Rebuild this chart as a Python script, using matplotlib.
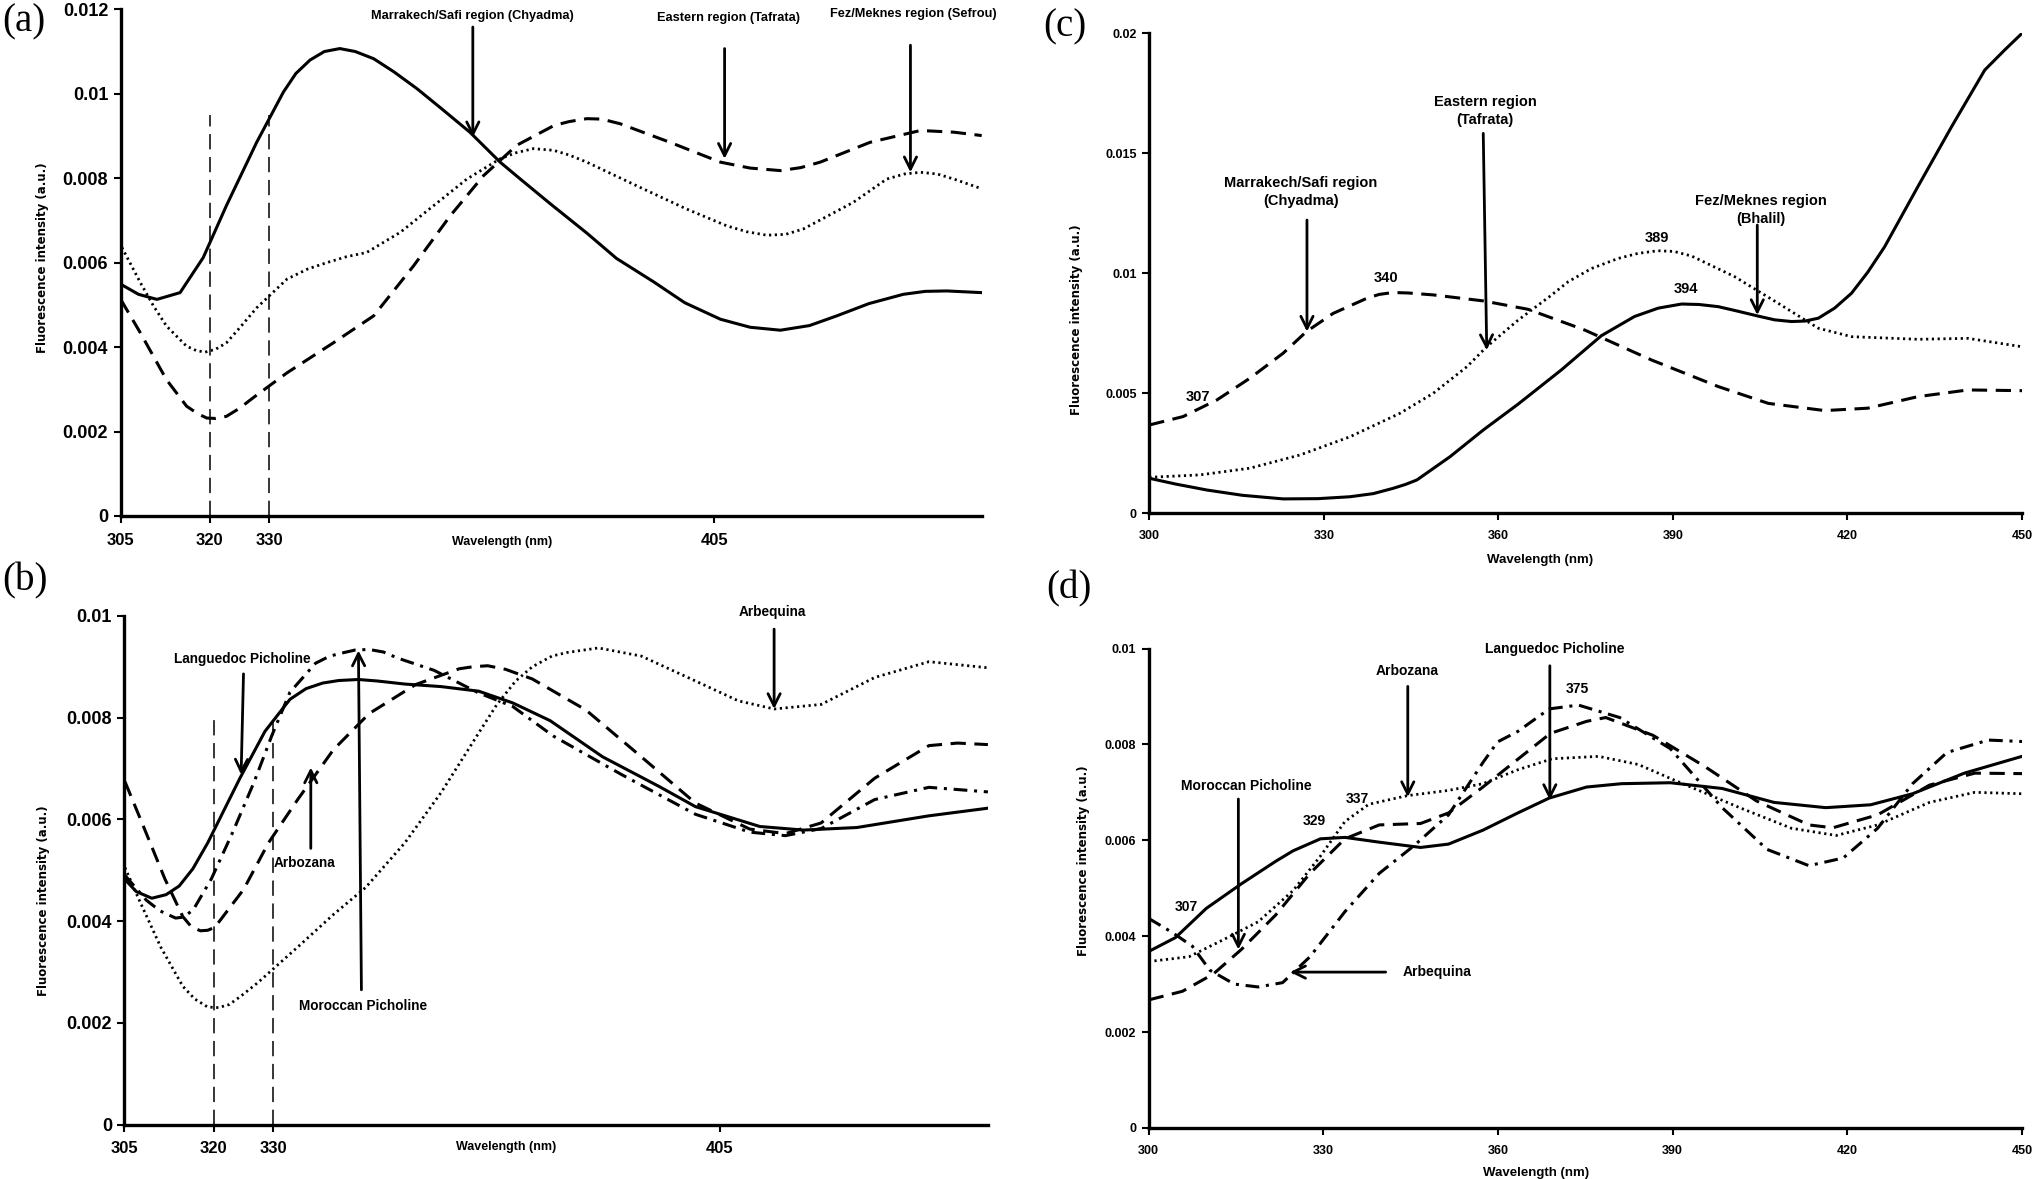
"""
Fluorescence spectra of olive oils: (a)/(c) by region, (b)/(d) by cultivar.
"""

import matplotlib
matplotlib.use("Agg")
import matplotlib.pyplot as plt

plt.rcParams['font.family'] = ['Liberation Sans', 'DejaVu Sans']
plt.rcParams['font.weight'] = 'bold'

# ============================================================
# Data
# ============================================================

# --- panel (a) ---
A_SOLID_X = [305, 308, 311.1, 315, 318.9, 322.8, 327.9, 332.4, 334.5, 336.9, 339.3, 341.9, 344.5,
             347.6, 351, 354.9, 359, 363.8, 368.9, 372.3, 377.3, 383.5, 388.5, 394.7, 400, 406.0,
             411, 416.1, 421, 425.6, 431, 436.8, 440.5, 444.1, 450]
A_SOLID_Y = [0.00549, 0.00525, 0.00513, 0.00529, 0.00612, 0.00735, 0.00885, 0.01004, 0.01048,
             0.0108, 0.011, 0.01107, 0.011, 0.01083, 0.01052, 0.01012, 0.00965, 0.00909, 0.00838,
             0.00798, 0.0074, 0.0067, 0.0061, 0.00555, 0.00505, 0.00466, 0.00447, 0.0044,
             0.00451, 0.00474, 0.00503, 0.00525, 0.00532, 0.00533, 0.00529]
A_DOT_X = [305.2, 308.3, 310.5, 312.7, 316.1, 317.7, 319.2, 321, 322.8, 325, 327.9, 333.0, 336.5,
           339.7, 343, 346.4, 352.1, 357.7, 363.3, 368.9, 371.5, 374.5, 377.9, 380.5, 383.5,
           391.9, 400.3, 407.1, 410.5, 413.8, 417, 420.0, 428.4, 434.0, 437, 439.7, 442.5, 445.3,
           450]
A_DOT_Y = [0.00636, 0.00553, 0.00498, 0.0045, 0.00402, 0.00392, 0.00388, 0.00395, 0.0041,
           0.00445, 0.00493, 0.00561, 0.00585, 0.006, 0.00614, 0.00624, 0.00672, 0.00735, 0.00798,
           0.00846, 0.0086, 0.0087, 0.00866, 0.00855, 0.00838, 0.00782, 0.00727, 0.00687,
           0.00673, 0.00665, 0.00667, 0.0068, 0.00743, 0.00798, 0.0081, 0.00814, 0.0081, 0.00798,
           0.00775]
A_DASH_X = [305, 308.3, 312.7, 316.1, 318, 319.5, 321, 322.8, 325, 327.3, 333.0, 340.8, 347.6,
            354.3, 360.5, 366.1, 371.7, 378.0, 380.5, 383.5, 386, 389.1, 397.5, 406.0, 411,
            416.1, 419.5, 422.8, 431.2, 439.7, 445.3, 450]
A_DASH_Y = [0.00513, 0.00434, 0.00323, 0.0026, 0.00242, 0.00232, 0.00231, 0.00236, 0.00255,
            0.0028, 0.00339, 0.0041, 0.00474, 0.00592, 0.00711, 0.00806, 0.00878, 0.00925,
            0.00934, 0.00941, 0.0094, 0.00929, 0.00885, 0.00838, 0.00824, 0.00818, 0.00825,
            0.00838, 0.00885, 0.00913, 0.00909, 0.00901]

# --- panel (b) ---
B_SOLID_X = [305, 307, 309.6, 312, 314.2, 316.5, 319.0, 324.4, 328.6, 332.8, 335.5, 338.3, 341,
             344.3, 347.5, 352.1, 358.2, 364.5, 370.2, 376.5, 385.3, 394.9, 400.9, 411.7, 419.0,
             428.0, 440.1, 450]
B_SOLID_Y = [0.00483, 0.00458, 0.00445, 0.00452, 0.00469, 0.00503, 0.00554, 0.00681, 0.00773,
             0.00836, 0.00857, 0.00868, 0.00873, 0.00875, 0.00872, 0.00866, 0.00861, 0.00852,
             0.00829, 0.00794, 0.00723, 0.00664, 0.00625, 0.00586, 0.00579, 0.00584, 0.00607,
             0.00622]
B_DASH_X = [305.1, 308.1, 311.8, 314.8, 316.3, 317.8, 319, 320.2, 325.0, 329.2, 334.1, 340.1,
            346.1, 353.9, 361.2, 363.5, 366.0, 369, 373.5, 382.5, 391.8, 400.9, 410.0, 416.0,
            422.0, 431.0, 440.1, 444.9, 450]
B_DASH_Y = [0.00674, 0.00589, 0.00483, 0.00409, 0.00388, 0.00381, 0.00382, 0.00388, 0.00462,
            0.00554, 0.00639, 0.00737, 0.00808, 0.00865, 0.00896, 0.009, 0.00902, 0.00895,
            0.00876, 0.00815, 0.00723, 0.00632, 0.00581, 0.00572, 0.00593, 0.00681, 0.00745,
            0.0075, 0.00747]
B_DASHDOT_X = [305.1, 308.7, 311, 313.6, 315, 316.6, 319.6, 323.2, 326.8, 329.8, 332.8, 337.1,
               339.5, 341.9, 343.8, 346.1, 348.5, 350.9, 357.0, 364.4, 370.2, 377.0, 388.5,
               400.9, 410.0, 416.0, 422.0, 431.0, 440.1, 450]
B_DASHDOT_Y = [0.0049, 0.00441, 0.0042, 0.00406, 0.00408, 0.00423, 0.00483, 0.00575, 0.00674,
               0.00766, 0.0085, 0.00907, 0.00921, 0.00928, 0.00933, 0.00934, 0.00929, 0.00917,
               0.00893, 0.00849, 0.00822, 0.00764, 0.00688, 0.0061, 0.00575, 0.00568, 0.00582,
               0.00639, 0.00663, 0.00654]
B_DOT_X = [305.1, 307.5, 311.1, 314.8, 316.8, 319.0, 320.8, 322.6, 324.5, 327.4, 334.1, 340.1,
           345.5, 352.1, 358.2, 364.5, 367.5, 370.7, 373.5, 376.8, 379.3, 384.6, 391.8, 400.9,
           408.1, 414.1, 422.0, 431.0, 440.1, 450]
B_DOT_Y = [0.00505, 0.00441, 0.00349, 0.00272, 0.00247, 0.00231, 0.0023, 0.00236, 0.00252,
           0.00279, 0.00349, 0.00413, 0.00466, 0.00554, 0.00653, 0.0077, 0.00825, 0.00872,
           0.009, 0.00921, 0.00928, 0.00937, 0.00921, 0.00872, 0.00833, 0.00817, 0.00826,
           0.00879, 0.0091, 0.00898]

# --- panel (c) ---
C_SOLID_X = [300, 304.5, 309.9, 316, 323, 329, 334.5, 338.5, 341.9, 344, 346, 351.7, 357.4, 363.4,
             370.8, 377.7, 383.4, 387.5, 391.5, 394.5, 397.8, 401, 404.6, 407.5, 410.4, 412.7,
             415.0, 417.8, 420.7, 423.5, 426.4, 432.1, 437.9, 443.6, 447, 450]
C_SOLID_Y = [0.00146, 0.00122, 0.00097, 0.00075, 0.0006, 0.00061, 0.00069, 0.00082, 0.00104,
             0.0012, 0.00139, 0.00236, 0.00347, 0.00455, 0.00597, 0.0074, 0.0082, 0.00855,
             0.00872, 0.0087, 0.00861, 0.00843, 0.00822, 0.00806, 0.00799, 0.00801, 0.00813,
             0.00855, 0.00917, 0.01005, 0.01111, 0.01361, 0.01611, 0.01847, 0.0193, 0.0200]
C_DASH_X = [300, 305.8, 311.6, 317.3, 323, 327, 331.6, 337.4, 339.5, 341.9, 344.5, 348.8, 357.4,
            365.1, 374.8, 386.3, 397.8, 406.4, 416.1, 423.5, 432.1, 440.7, 450]
C_DASH_Y = [0.00368, 0.00403, 0.00472, 0.00563, 0.00667, 0.00757, 0.00833, 0.00896, 0.00912,
            0.0092, 0.00918, 0.0091, 0.00885, 0.0085, 0.00764, 0.00639, 0.00528, 0.00458,
            0.00428, 0.00438, 0.00486, 0.00514, 0.00511]
C_DOT_X = [300, 308.7, 317.3, 325.9, 334.5, 343.1, 348.8, 354.6, 358, 363.3, 368.9, 372, 376,
           380.6, 384, 387.4, 390.2, 393.2, 400.6, 408.1, 415, 420.7, 432.1, 440.7, 450]
C_DOT_Y = [0.0015, 0.0016, 0.00188, 0.00243, 0.00319, 0.00417, 0.005, 0.00611, 0.00694, 0.00803,
           0.00905, 0.00965, 0.0102, 0.01062, 0.01083, 0.01094, 0.01091, 0.01072, 0.00986,
           0.00875, 0.00771, 0.00736, 0.00725, 0.00729, 0.00694]

# --- panel (d) ---
D_SOLID_X = [300, 304.6, 309.9, 315.9, 321.8, 324.8, 329.5, 333.7, 339.6, 346.7, 351.5, 357.4,
             363.4, 368.8, 375.2, 381.2, 389.6, 398.5, 407.4, 416.3, 424.0, 431.2, 440.1, 450]
D_SOLID_Y = [0.00368, 0.00397, 0.00458, 0.00509, 0.00556, 0.00578, 0.00603, 0.00606, 0.00596,
             0.00585, 0.00592, 0.00621, 0.00657, 0.00688, 0.00711, 0.00718, 0.0072, 0.00708,
             0.00679, 0.00668, 0.00674, 0.00697, 0.0074, 0.00775]
D_DOT_X = [300, 306.9, 312.9, 318.8, 324.8, 329.5, 333.7, 337.8, 344.4, 351.5, 357.4, 363.4,
           369.3, 377.3, 384.1, 389.6, 401.5, 410.4, 418.1, 425.2, 434.1, 441.9, 450]
D_DOT_Y = [0.00347, 0.00357, 0.00393, 0.0043, 0.00495, 0.00567, 0.00639, 0.00675, 0.00693,
           0.00704, 0.00718, 0.00747, 0.0077, 0.00775, 0.00758, 0.00729, 0.00668, 0.00625,
           0.0061, 0.00632, 0.00679, 0.007, 0.00697]
D_DASH_X = [300, 305.8, 311.1, 315.9, 321.8, 327.7, 333.7, 339.6, 346.7, 351.5, 357.4, 363.4,
            369.0, 375.2, 378.5, 386.6, 395.5, 404.4, 413.4, 417.5, 425.2, 434.1, 441.9, 450]
D_DASH_Y = [0.00267, 0.00285, 0.00321, 0.00372, 0.00444, 0.00531, 0.00603, 0.00632, 0.00635,
            0.00657, 0.00711, 0.00769, 0.00823, 0.00848, 0.00856, 0.00819, 0.00754, 0.00682,
            0.00632, 0.00626, 0.00653, 0.00715, 0.0074, 0.00739]
D_DASHDOT_X = [300, 304, 307.5, 310.5, 314.7, 318.8, 323, 327.7, 333.7, 339.6, 345.5, 351.5,
               357.4, 359.9, 363.4, 368.8, 373.8, 380.9, 389.6, 398.5, 406.2, 413.4, 419.3,
               425.2, 431.2, 437.1, 444.2, 450]
D_DASHDOT_Y = [0.00437, 0.00408, 0.00379, 0.00329, 0.003, 0.00294, 0.00303, 0.00357, 0.00451,
               0.00531, 0.00588, 0.00653, 0.00762, 0.00805, 0.00827, 0.00874, 0.00882, 0.00856,
               0.00791, 0.00668, 0.00581, 0.00547, 0.00563, 0.00625, 0.00718, 0.00783, 0.00809,
               0.00806]

# axis ticks
AB_XTICKS = [305, 320, 330, 405]
A_YTICKS = [0, 0.002, 0.004, 0.006, 0.008, 0.01, 0.012]
B_YTICKS = [0, 0.002, 0.004, 0.006, 0.008, 0.01]
C_YTICKS = [0, 0.005, 0.01, 0.015, 0.02]
D_YTICKS = [0, 0.002, 0.004, 0.006, 0.008, 0.01]
CD_XTICKS = [300, 330, 360, 390, 420, 450]

# ============================================================
# Styles
# ============================================================
LW = 2.2
SOLID = dict(color='black', lw=LW, linestyle='-')
DASHED = dict(color='black', lw=LW, linestyle=(0, (5, 2.8)))
DOTTED = dict(color='black', lw=LW * 0.9, linestyle=(0, (0.8, 1.3)))
DASHDOT = dict(color='black', lw=LW, linestyle=(0, (4.5, 2.2, 1, 2.2)))
REFLINE = dict(color='black', lw=1.1, linestyle=(0, (10, 5)))
ARROW = dict(arrowstyle='->', color='black', lw=2.0, mutation_scale=22, shrinkA=0, shrinkB=0)

W, H = 2038, 1179


def px_rect(left, right, top, bottom):
    return [left / W, 1 - bottom / H, (right - left) / W, (bottom - top) / H]


def style_axes(ax, xticks, yticks, xfs, yfs, xlim, ylim):
    for s in ['top', 'right']:
        ax.spines[s].set_visible(False)
    for s in ['left', 'bottom']:
        ax.spines[s].set_linewidth(2.4)
    ax.set_xlim(*xlim)
    ax.set_ylim(*ylim)
    ax.set_xticks(xticks)
    ax.set_xticklabels([str(t) for t in xticks])
    ax.set_yticks(yticks)
    ax.set_yticklabels(['0' if t == 0 else f'{t:g}' for t in yticks])
    ax.tick_params(axis='both', direction='out', length=5, width=1.5)
    ax.tick_params(axis='x', pad=7, labelsize=xfs)
    ax.tick_params(axis='y', pad=4, labelsize=yfs)
    for lab in ax.get_xticklabels() + ax.get_yticklabels():
        lab.set_fontweight('bold')


def labels(ax, xl_pos, yl_pos, xfs):
    ax.set_xlabel('Wavelength (nm)', fontsize=xfs, fontweight='bold')
    ax.xaxis.set_label_coords(*xl_pos)
    ax.xaxis.label.set_va('center')
    ax.set_ylabel('Fluorescence intensity (a.u.)', fontsize=8.5, fontweight='bold',
                  family='DejaVu Sans')
    ax.yaxis.set_label_coords(*yl_pos)
    ax.yaxis.label.set_va('center')


def arrow(ax, tail, head):
    ax.annotate('', xy=head, xytext=tail, arrowprops=ARROW)


fig = plt.figure(figsize=(W / 100, H / 100), dpi=100)
fig.patch.set_facecolor('white')

# ------------------------------------------------------------
# (a)
# ------------------------------------------------------------
FS_A = 9.2
ax_a = fig.add_axes(px_rect(120.7, 981.7, 9.3, 516))
ax_a.plot(A_SOLID_X, A_SOLID_Y, **SOLID)
ax_a.plot(A_DOT_X, A_DOT_Y, **DOTTED)
ax_a.plot(A_DASH_X, A_DASH_Y, **DASHED)
for xv in [320, 330]:
    ax_a.plot([xv, xv], [0, 0.0095], **REFLINE)
style_axes(ax_a, AB_XTICKS, A_YTICKS, 12, 13, (305, 450), (0, 0.012))
labels(ax_a, (0.443, -0.051), (-0.091, 0.51), 9)
ax_a.text(364.3, 0.01185, 'Marrakech/Safi region (Chyadma)', ha='center', va='center', fontsize=FS_A)
arrow(ax_a, (364.3, 0.01158), (364.3, 0.00897))
ax_a.text(407.3, 0.0118, 'Eastern region (Tafrata)', ha='center', va='center', fontsize=FS_A)
arrow(ax_a, (406.7, 0.01107), (406.7, 0.00846))
ax_a.text(438.4, 0.0119, 'Fez/Meknes region (Sefrou)', ha='center', va='center', fontsize=FS_A)
arrow(ax_a, (438.0, 0.01115), (438.0, 0.00814))

# ------------------------------------------------------------
# (b)
# ------------------------------------------------------------
FS_B = 9.8
ax_b = fig.add_axes(px_rect(124.4, 987.9, 615.9, 1124.6))
ax_b.plot(B_SOLID_X, B_SOLID_Y, **SOLID)
ax_b.plot(B_DASH_X, B_DASH_Y, **DASHED)
ax_b.plot(B_DASHDOT_X, B_DASHDOT_Y, **DASHDOT)
ax_b.plot(B_DOT_X, B_DOT_Y, **DOTTED)
for xv in [320, 330]:
    ax_b.plot([xv, xv], [0, 0.0081], **REFLINE)
style_axes(ax_b, AB_XTICKS, B_YTICKS, 12, 13, (305, 450), (0, 0.01))
labels(ax_b, (0.442, -0.044), (-0.094, 0.44), 9)
ax_b.text(324.8, 0.00916, 'Languedoc Picholine', ha='center', va='center', fontsize=FS_B)
arrow(ax_b, (325.0, 0.00886), (324.6, 0.00688))
ax_b.text(335.3, 0.00515, 'Arbozana', ha='center', va='center', fontsize=FS_B)
arrow(ax_b, (336.3, 0.00543), (336.3, 0.00702))
ax_b.text(345.1, 0.00233, 'Moroccan Picholine', ha='center', va='center', fontsize=FS_B)
arrow(ax_b, (344.8, 0.00265), (344.3, 0.00932))
ax_b.text(413.8, 0.01007, 'Arbequina', ha='center', va='center', fontsize=FS_B)
arrow(ax_b, (414.1, 0.00974), (414.1, 0.00817))

# ------------------------------------------------------------
# (c)
# ------------------------------------------------------------
FS_C = 10.5
ax_c = fig.add_axes(px_rect(1149.3, 2022, 33.3, 513.3))
ax_c.plot(C_SOLID_X, C_SOLID_Y, **SOLID)
ax_c.plot(C_DASH_X, C_DASH_Y, **DASHED)
ax_c.plot(C_DOT_X, C_DOT_Y, **DOTTED)
style_axes(ax_c, CD_XTICKS, C_YTICKS, 9, 9, (300, 450), (0, 0.02))
labels(ax_c, (0.448, -0.097), (-0.083, 0.403), 9.5)
ax_c.text(326.0, 0.0134, 'Marrakech/Safi region\n(Chyadma)', ha='center', va='center',
          fontsize=FS_C, linespacing=1.35)
arrow(ax_c, (327.1, 0.01222), (327.1, 0.00757))
ax_c.text(357.7, 0.01675, 'Eastern region\n(Tafrata)', ha='center', va='center',
          fontsize=FS_C, linespacing=1.35)
arrow(ax_c, (357.4, 0.01583), (358.0, 0.0068))
ax_c.text(405.2, 0.01265, 'Fez/Meknes region\n(Bhalil)', ha='center', va='center',
          fontsize=FS_C, linespacing=1.35)
arrow(ax_c, (404.5, 0.01201), (404.5, 0.00826))
for txt, xv, yv in [('307', 308.3, 0.00486), ('340', 340.7, 0.00982),
                    ('389', 387.2, 0.01146), ('394', 392.3, 0.00935)]:
    ax_c.text(xv, yv, txt, ha='center', va='center', fontsize=FS_C)

# ------------------------------------------------------------
# (d)
# ------------------------------------------------------------
FS_D = 10
ax_d = fig.add_axes(px_rect(1148.7, 2022, 648.5, 1127.9))
ax_d.plot(D_SOLID_X, D_SOLID_Y, **SOLID)
ax_d.plot(D_DOT_X, D_DOT_Y, **DOTTED)
ax_d.plot(D_DASH_X, D_DASH_Y, **DASHED)
ax_d.plot(D_DASHDOT_X, D_DASHDOT_Y, **DASHDOT)
style_axes(ax_d, CD_XTICKS, D_YTICKS, 9, 9, (300, 450), (0, 0.01))
labels(ax_d, (0.4435, -0.094), (-0.075, 0.557), 9.5)
ax_d.text(316.7, 0.00713, 'Moroccan Picholine', ha='center', va='center', fontsize=FS_D)
arrow(ax_d, (315.4, 0.00686), (315.4, 0.00372))
ax_d.text(344.4, 0.00953, 'Arbozana', ha='center', va='center', fontsize=FS_D)
arrow(ax_d, (344.5, 0.00921), (344.5, 0.0069))
ax_d.text(369.8, 0.00998, 'Languedoc Picholine', ha='center', va='center', fontsize=FS_D)
arrow(ax_d, (368.9, 0.00964), (368.9, 0.00684))
ax_d.text(349.6, 0.00326, 'Arbequina', ha='center', va='center', fontsize=FS_D)
arrow(ax_d, (340.7, 0.00325), (324.3, 0.00325))
for txt, xv, yv in [('307', 306.5, 0.00461), ('329', 328.5, 0.0064),
                    ('337', 335.9, 0.00686), ('375', 373.6, 0.00915)]:
    ax_d.text(xv, yv, txt, ha='center', va='center', fontsize=FS_D)

# ------------------------------------------------------------
# panel letters
# ------------------------------------------------------------
for letter, lx, ty in [('(a)', 2, 3), ('(b)', 2, 562), ('(c)', 1043, 8), ('(d)', 1046, 570)]:
    fig.text(lx / W, 1 - ty / H, letter, ha='left', va='top', fontsize=28,
             family='Liberation Serif', fontweight='normal')

fig.savefig('out.png', dpi=100, facecolor='white')
